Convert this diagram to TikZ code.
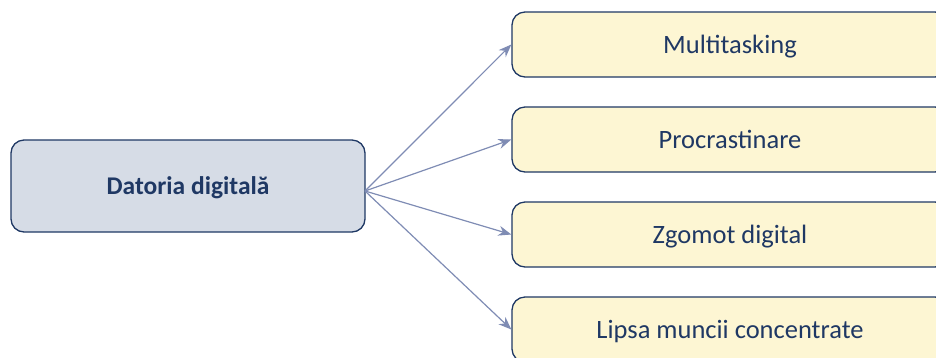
\documentclass[tikz,border=0pt]{standalone}
\usepackage{fontspec}
\setmainfont{Carlito}
\usetikzlibrary{arrows.meta}
\definecolor{navy}{HTML}{1F3864}
\definecolor{hubfill}{HTML}{D6DCE6}
\definecolor{leaffill}{HTML}{FDF6D3}
\definecolor{arrowc}{HTML}{7F8CB4}
\tikzset{
  hubbox/.style={draw=navy, line width=1.3pt, fill=hubfill, rounded corners=13pt,
    minimum width=354pt, minimum height=92pt, inner sep=0pt, text=navy,
    text depth=0pt, font=\fontsize{25.5}{30}\selectfont\bfseries},
  leafbox/.style={draw=navy, line width=1.3pt, fill=leaffill, rounded corners=13pt,
    minimum width=436pt, minimum height=65pt, inner sep=0pt, text=navy,
    text depth=0pt, font=\fontsize{26.5}{30}\selectfont},
  conn/.style={draw=arrowc, line width=1.2pt, -{Stealth[length=13pt,width=10pt]}}
}
\begin{document}
\begin{tikzpicture}[x=1pt,y=-1pt]
\useasboundingbox (0,0) rectangle (936,357);
\node[hubbox] (hub) at (188,186) {Datoria digitală};
\coordinate (src) at (365,191);
\node[leafbox] (m) at (730,44.5) {Multitasking};
\node[leafbox] (p) at (730,139.5) {Procrastinare};
\node[leafbox] (z) at (730,234.5) {Zgomot digital};
\node[leafbox] (l) at (730,329.5) {Lipsa muncii concentrate};
\draw[conn] (src) -- (m.west);
\draw[conn] (src) -- (p.west);
\draw[conn] (src) -- (z.west);
\draw[conn] (src) -- (l.west);
\end{tikzpicture}
\end{document}
